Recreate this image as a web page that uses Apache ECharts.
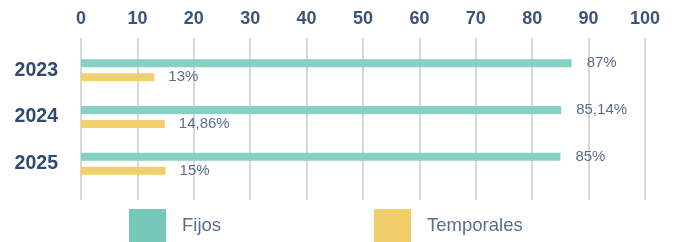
<!DOCTYPE html>
<html lang="es">
<head>
    <meta charset="UTF-8">
    <title>Fijos / Temporales</title>
    <script src="https://cdn.jsdelivr.net/npm/echarts@6/dist/echarts.min.js"></script>
    <style>
        html, body { margin: 0; padding: 0; background: #fff; }
        #chart { width: 679px; height: 242px; }
    </style>
</head>
<body>
<div id="chart"></div>
<script>
    // data
    var years = ['2023', '2024', '2025'];
    var fijos = [87, 85.14, 85];
    var temporales = [13, 14.86, 15];
    var seriesNames = ['Fijos', 'Temporales'];

    var teal = '#86d1c3';
    var yellow = '#f1cf6b';
    var gridColor = '#d8d8d8';
    var font = 'Liberation Sans, Arial, sans-serif';

    function pct(p) {
        return String(p.value).replace('.', ',') + '%';
    }

    var chart = echarts.init(document.getElementById('chart'));

    chart.setOption({
        animation: false,
        textStyle: { fontFamily: font },
        grid: { left: 81, right: 34, top: 47, bottom: 55 },
        legend: {
            top: 209,
            left: 129,
            padding: 0,
            itemWidth: 37,
            itemHeight: 33,
            itemGap: 153,
            icon: 'rect',
            textStyle: { fontSize: 18.5, color: '#5b6d8f', padding: [5, 0, 0, 11] },
            data: [
                { name: seriesNames[0], itemStyle: { color: '#76c9ba' } },
                { name: seriesNames[1], itemStyle: { color: '#f0ce6a' } }
            ]
        },
        xAxis: [{
            type: 'value',
            position: 'top',
            min: 0,
            max: 100,
            interval: 10,
            axisLine: { show: false },
            axisTick: { show: true, length: 9, lineStyle: { color: gridColor, width: 2 } },
            axisLabel: { margin: 19, fontSize: 18, fontWeight: 'bold', color: '#3c5479' },
            splitLine: { show: true, lineStyle: { color: gridColor, width: 2 } }
        }, {
            type: 'value',
            position: 'bottom',
            min: 0,
            max: 100,
            interval: 10,
            axisLine: { show: false },
            axisTick: { show: true, length: 13, lineStyle: { color: gridColor, width: 2 } },
            axisLabel: { show: false },
            splitLine: { show: false }
        }],
        yAxis: {
            type: 'category',
            inverse: true,
            data: years,
            axisLine: { show: false },
            axisTick: { show: false },
            axisLabel: { margin: 23, fontSize: 19.5, fontWeight: 'bold', color: '#2f4a71' }
        },
        series: [{
            name: seriesNames[0],
            type: 'bar',
            data: fijos,
            barWidth: 8,
            barGap: '75%',
            itemStyle: { color: teal },
            label: {
                show: true,
                position: 'right',
                distance: 15,
                fontSize: 15,
                color: '#5b6d8f',
                formatter: pct
            }
        }, {
            name: seriesNames[1],
            type: 'bar',
            data: temporales,
            barWidth: 8,
            itemStyle: { color: yellow },
            label: {
                show: true,
                position: 'right',
                distance: 14,
                fontSize: 15,
                color: '#5b6d8f',
                formatter: pct
            }
        }]
    });
</script>
</body>
</html>
